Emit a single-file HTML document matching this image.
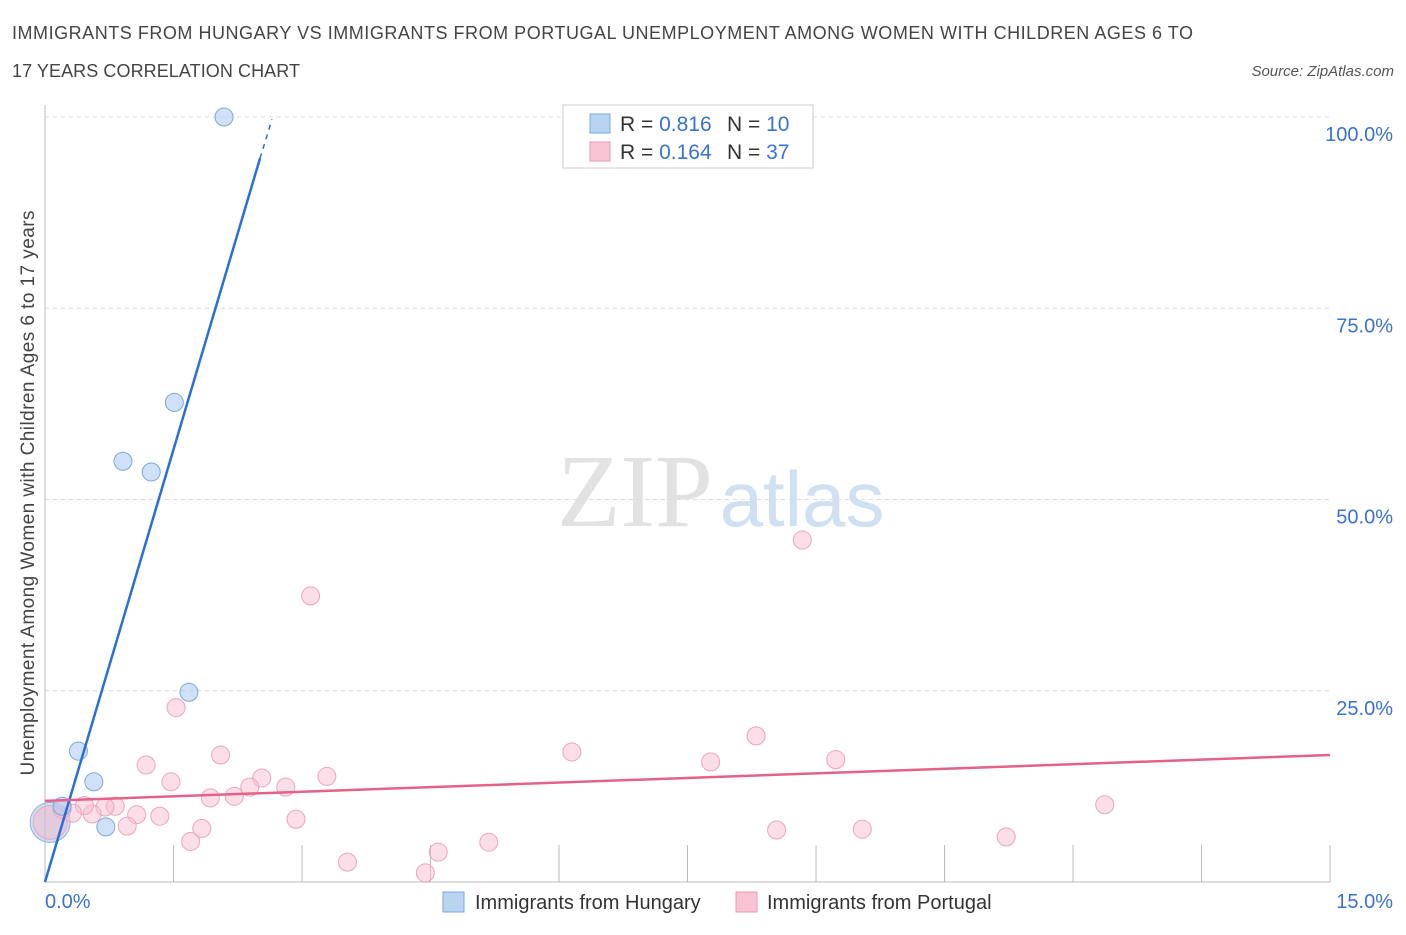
<!DOCTYPE html>
<html><head><meta charset="utf-8"><style>
body{margin:0;background:#fff;font-family:"Liberation Sans",sans-serif}
</style></head><body>
<svg width="1406" height="930" xmlns="http://www.w3.org/2000/svg" font-family="Liberation Sans, sans-serif">
<text x="12" y="39" font-size="18" fill="#444" textLength="1181">IMMIGRANTS FROM HUNGARY VS IMMIGRANTS FROM PORTUGAL UNEMPLOYMENT AMONG WOMEN WITH CHILDREN AGES 6 TO</text>
<text x="12" y="77" font-size="18" fill="#444" textLength="288">17 YEARS CORRELATION CHART</text>
<text x="1394" y="76" font-size="15" fill="#555" font-style="italic" text-anchor="end">Source: ZipAtlas.com</text>
<text x="635" y="526" font-size="104" fill="#e2e2e2" font-family="Liberation Serif, serif" text-anchor="middle">ZIP</text>
<text x="802" y="526" font-size="78" fill="#cfe0f3" text-anchor="middle">atlas</text>
<g id="grid"></g>
<g id="axes"></g>
<text transform="translate(34,493) rotate(-90)" font-size="19" fill="#444" text-anchor="middle" textLength="565">Unemployment Among Women with Children Ages 6 to 17 years</text>
<g id="pts"></g>
<g id="lines"></g>
<g>
<rect x="563" y="105" width="250" height="63" fill="#fff" stroke="#ccc"/>
<rect x="590" y="114" width="20" height="19" fill="#b9d3f3" stroke="#7aa7e0"/>
<rect x="590" y="142" width="20" height="19" fill="#f8c4d4" stroke="#eb97b1"/>
<text x="620" y="131" font-size="21" fill="#333">R = <tspan fill="#3a72d0">0.816</tspan><tspan x="727">N = </tspan><tspan fill="#3a72d0">10</tspan></text>
<text x="620" y="159" font-size="21" fill="#333">R = <tspan fill="#3a72d0">0.164</tspan><tspan x="727">N = </tspan><tspan fill="#3a72d0">37</tspan></text>
</g>
<g>
<rect x="443" y="892" width="21" height="20" fill="#b9d3f3" stroke="#7aa7e0"/>
<text x="475" y="909" font-size="20" fill="#333">Immigrants from Hungary</text>
<rect x="736" y="892" width="21" height="20" fill="#f8c4d4" stroke="#eb97b1"/>
<text x="767" y="909" font-size="20" fill="#333">Immigrants from Portugal</text>
</g>
</svg>
<script>
const yTicks=[25,50,75,100];
const xTickLabels=["0.0%","15.0%"];
const hungaryX=[2.09,1.51,0.91,1.24,1.68,0.39,0.57,0.71,0.20];
const hungaryY=[100,62.7,55.0,53.6,24.8,17.1,13.1,7.2,9.9];
const portugalX=[3.10,8.84,1.53,2.05,1.18,1.47,2.53,2.21,2.39,2.81,3.29,1.93,6.15,7.77,8.30,9.23,12.37,11.22,9.54,8.54,5.18,4.59,3.53,4.44,1.70,1.83,2.93,1.34,1.07,0.82,0.70,0.55,0.46,0.32,0.96,0.20];
const portugalY=[37.4,44.7,22.8,16.6,15.3,13.1,13.6,11.2,12.4,12.4,13.8,11.0,17.0,15.7,19.1,16.0,10.1,5.9,6.9,6.8,5.2,3.9,2.6,1.2,5.3,7.0,8.2,8.6,8.8,9.9,9.8,8.9,10.0,9.0,7.3,9.5];
const hungaryLine=[0,0,2.51,94.6];
const portugalLine=[0,10.6,15,16.6];
const NS="http://www.w3.org/2000/svg";
const X=v=>45+v*85.67, Y=v=>882-v*7.65;
function mk(t,a,p){const e=document.createElementNS(NS,t);for(const k in a)e.setAttribute(k,a[k]);p.appendChild(e);return e;}
const grid=document.getElementById('grid'),axes=document.getElementById('axes'),pts=document.getElementById('pts'),lines=document.getElementById('lines');
yTicks.forEach(t=>{
 const l=mk('line',{x1:45,x2:1330,y1:Y(t),y2:Y(t),stroke:'#ddd','stroke-dasharray':'4,4'},grid);
 
 
 const tx=mk('text',{x:1393,y:Y(t)+24,'font-size':20,fill:'#3a72d0','text-anchor':'end'},grid);
 tx.textContent=t.toFixed(1)+'%';
 
 
});
mk('line',{x1:45,x2:45,y1:105,y2:882,stroke:'#bbb'},axes);
mk('line',{x1:45,x2:1330,y1:882,y2:882,stroke:'#bbb'},axes);
for(let i=1;i<=10;i++){const tk=mk('line',{x1:X(i*1.5),x2:X(i*1.5),y1:845,y2:882,stroke:'#bbb'},axes);
 
 }
const xl0=mk('text',{x:45,y:908,'font-size':20,fill:'#3a72d0'},axes);xl0.textContent=xTickLabels[0];


const xl1=mk('text',{x:1393,y:908,'font-size':20,fill:'#3a72d0','text-anchor':'end'},axes);xl1.textContent=xTickLabels[1];


const b1=mk('circle',{cx:X(0.06),cy:Y(7.8),r:20,fill:'rgba(160,195,240,0.5)',stroke:'#8ab3e6'},pts);


const b2=mk('circle',{cx:X(0.06),cy:Y(7.8),r:17,fill:'rgba(245,180,200,0.5)',stroke:'#eda5bc'},pts);


portugalX.forEach((x,i)=>{const c=mk('circle',{cx:X(x),cy:Y(portugalY[i]),r:9,fill:'rgba(248,190,208,0.5)',stroke:'#eda5bc'},pts);
 
 });
hungaryX.forEach((x,i)=>{const c=mk('circle',{cx:X(x),cy:Y(hungaryY[i]),r:9,fill:'rgba(170,200,240,0.55)',stroke:'#7aa7e0'},pts);
 
 });
const hl=mk('line',{x1:X(hungaryLine[0]),y1:Y(hungaryLine[1]),x2:X(hungaryLine[2]),y2:Y(hungaryLine[3]),stroke:'#2a6fd6','stroke-width':2.5},lines);


const hd=mk('line',{x1:X(hungaryLine[2]),y1:Y(hungaryLine[3]),x2:X(2.65),y2:Y(99.7),stroke:'#2a6fd6','stroke-width':1.5,'stroke-dasharray':'5,5'},lines);


const pl=mk('line',{x1:X(portugalLine[0]),y1:Y(portugalLine[1]),x2:X(portugalLine[2]),y2:Y(portugalLine[3]),stroke:'#e4628a','stroke-width':2.5},lines);


</script>
</body></html>
